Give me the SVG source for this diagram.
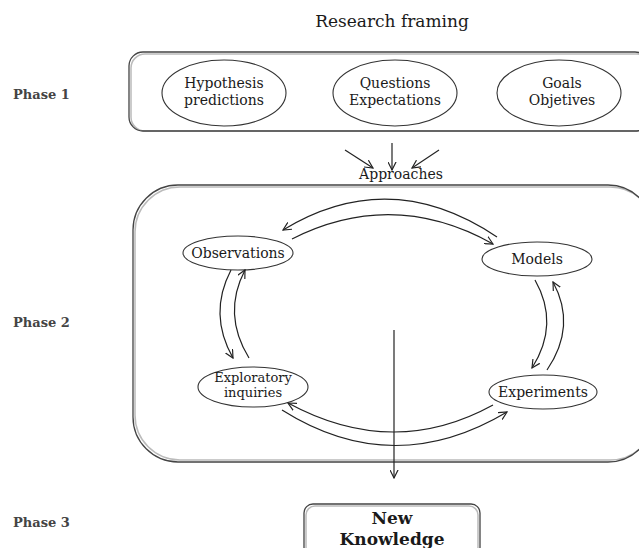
<svg xmlns="http://www.w3.org/2000/svg" width="639" height="548" viewBox="0 0 639 548">
<defs>
<marker id="ah" viewBox="0 0 10 10" refX="9" refY="5" markerWidth="9" markerHeight="9" markerUnits="userSpaceOnUse" orient="auto">
<path d="M0,0.5 L9,5 L0,9.5" fill="none" stroke="#222" stroke-width="1.3"/>
</marker>
</defs>
<style>
.t{font-family:"DejaVu Serif","Liberation Serif",serif;fill:#1a1a1a;text-anchor:middle}
.ph{font-family:"DejaVu Serif","Liberation Serif",serif;font-weight:bold;font-size:13px;fill:#444}
.n{font-size:14px}
.s{font-size:13px}
.el{fill:#fff;stroke:#333;stroke-width:1.1}
.box{fill:none;stroke:#444;stroke-width:1.3}
.sh{fill:none;stroke:#bbb;stroke-width:1.5}
.c{fill:none;stroke:#222;stroke-width:1.2}
</style>
<rect width="639" height="548" fill="#fff"/>
<text class="t" x="392" y="27" font-size="17">Research framing</text>
<text class="ph" x="13" y="99">Phase 1</text>
<text class="ph" x="13" y="327">Phase 2</text>
<text class="ph" x="13" y="527">Phase 3</text>
<g id="phase1">
<rect class="sh" x="131" y="54" width="520" height="77" rx="14"/>
<rect class="box" x="129" y="52" width="520" height="79" rx="14"/>
</g>
<g id="hypothesis">
<ellipse class="el" cx="224" cy="93" rx="62" ry="33"/>
<text class="t n" x="224" y="88">Hypothesis</text>
<text class="t n" x="224" y="105">predictions</text>
</g>
<g id="questions">
<ellipse class="el" cx="395" cy="93" rx="62" ry="33"/>
<text class="t n" x="395" y="88">Questions</text>
<text class="t n" x="395" y="105">Expectations</text>
</g>
<g id="goals">
<ellipse class="el" cx="559" cy="93" rx="62" ry="33"/>
<text class="t n" x="562" y="88">Goals</text>
<text class="t n" x="562" y="105">Objetives</text>
</g>
<g id="approaches">
<text class="t n" x="401" y="179">Approaches</text>
</g>
<g id="phase2">
<rect class="sh" x="135" y="187" width="520" height="273" rx="45"/>
<rect class="box" x="133" y="185" width="520" height="277" rx="45"/>
</g>
<g id="observations">
<ellipse class="el" cx="238" cy="253" rx="55" ry="17"/>
<text class="t n" x="238" y="258">Observations</text>
</g>
<g id="models">
<ellipse class="el" cx="537" cy="259" rx="55" ry="17"/>
<text class="t n" x="537" y="264">Models</text>
</g>
<g id="exploratory">
<ellipse class="el" cx="253" cy="387" rx="55" ry="20"/>
<text class="t s" x="253" y="382">Exploratory</text>
<text class="t s" x="253" y="397">inquiries</text>
</g>
<g id="experiments">
<ellipse class="el" cx="543" cy="392" rx="54" ry="17"/>
<text class="t n" x="543" y="397">Experiments</text>
</g>
<g id="knowledge">
<rect class="sh" x="306" y="506" width="172" height="50" rx="9"/>
<rect class="box" x="304" y="504" width="176" height="52" rx="9"/>
<text class="t" x="392" y="524" font-size="17" font-weight="bold">New</text>
<text class="t" x="392" y="545" font-size="17" font-weight="bold">Knowledge</text>
</g>
<g id="connectors">
<path class="c" d="M345 150 L373 168" marker-end="url(#ah)"/>
<path class="c" d="M392 143 L392 170" marker-end="url(#ah)"/>
<path class="c" d="M439 150 L412 168" marker-end="url(#ah)"/>
<path class="c" d="M497 237 Q390 165 283 230" marker-end="url(#ah)"/>
<path class="c" d="M292 239 Q393 188 493 244" marker-end="url(#ah)"/>
<path class="c" d="M231 270 Q208 314 233 358" marker-end="url(#ah)"/>
<path class="c" d="M249 358 Q222 314 245 270" marker-end="url(#ah)"/>
<path class="c" d="M535 280 Q560 324 532 368" marker-end="url(#ah)"/>
<path class="c" d="M547 370 Q577 326 553 282" marker-end="url(#ah)"/>
<path class="c" d="M493 405 Q393 460 288 403" marker-end="url(#ah)"/>
<path class="c" d="M282 410 Q393 480 507 412" marker-end="url(#ah)"/>
<path class="c" d="M394 330 L394 478" marker-end="url(#ah)"/>
</g>
</svg>
